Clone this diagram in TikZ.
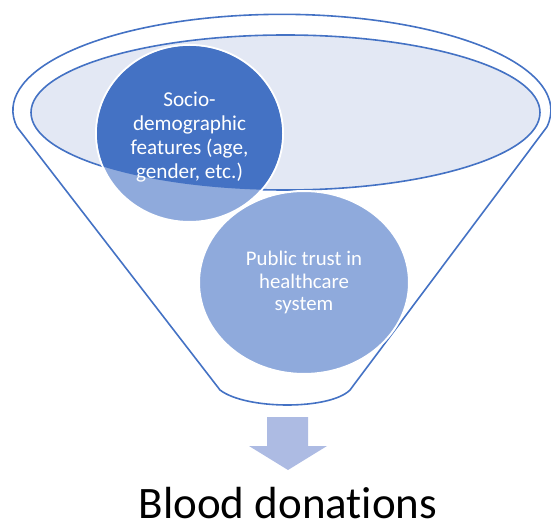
\documentclass[tikz,border=0pt]{standalone}
\usepackage{fontspec}
\setmainfont{Carlito}[Ligatures=NoCommon]
\usetikzlibrary{shapes.geometric}
\definecolor{funnelblue}{HTML}{4472C4}
\definecolor{lightblob}{HTML}{8FAADC}
\definecolor{rimfill}{HTML}{E3E8F4}
\definecolor{arrowblue}{HTML}{ADBBE3}
\tikzset{
  blob/.style={ellipse, draw=white, line width=1pt, inner sep=0pt},
  blobtext/.style={text=white, align=center, inner sep=0pt},
}
\begin{document}
\begin{tikzpicture}[x=0.5pt,y=-0.5pt]
\useasboundingbox (0,0) rectangle (551,529);

%trattens kontur
\draw [funnelblue, line width=0.8pt] (17,127) arc[start angle=190, end angle=-10, x radius=134.5pt, y radius=48pt]
  -- (350,390) .. controls (330,410) and (246,410) .. (220,390) -- cycle;

%inre ellips (öppningen)
\draw [funnelblue, fill=rimfill, line width=0.8pt] (285.5,112.5) ellipse [x radius=127.25pt, y radius=38.75pt];

%cirkel 1, ljus del under kanten
\node[blob, fill=lightblob, minimum width=93.5pt, minimum height=88.5pt] (socio) at (189.5,133.5) {};
\begin{scope}
  \clip (285.5,112.5) ellipse [x radius=127.25pt, y radius=38.75pt];
  \fill [funnelblue] (socio.center) ellipse [x radius=46.25pt, y radius=43.75pt];
\end{scope}
\node[blobtext, font=\fontsize{10.6pt}{12pt}\selectfont] (sociotext) at ([yshift=-2pt]socio.center)
  {Socio-\\demographic\\features (age,\\gender, etc.)};

%cirkel 2
\node[blob, fill=lightblob, minimum width=105pt, minimum height=91.5pt] (trust) at (304,282.5) {};
\node[blobtext, font=\fontsize{10.4pt}{11.4pt}\selectfont] (trusttext) at (trust.center)
  {Public trust in\\healthcare\\system};

%pil nedåt
\fill [arrowblue] (267,417) -- (308,417) -- (308,446) -- (327,446) -- (288,470) -- (249,446) -- (267,446) -- cycle;

\node[anchor=base, inner sep=0pt, font=\fontsize{22.5pt}{27pt}\selectfont] (result) at (288,518) {Blood donations};

\end{tikzpicture}
\end{document}
